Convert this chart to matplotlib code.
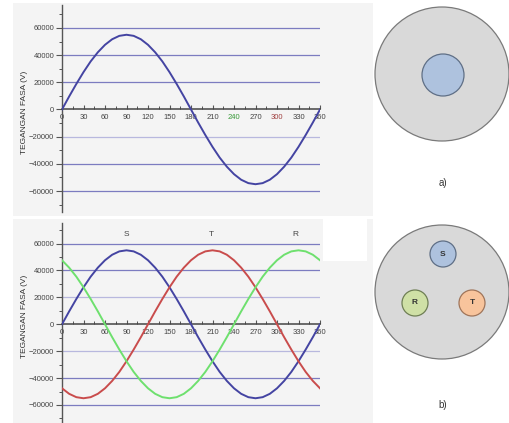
import matplotlib
matplotlib.use("Agg")
import matplotlib.pyplot as plt
from matplotlib.patches import Rectangle, Circle
from matplotlib.ticker import MultipleLocator

plt.rcParams['font.family'] = ['Liberation Sans', 'DejaVu Sans']

# ---- data ----
angles = [0, 10, 20, 30, 40, 50, 60, 70, 80, 90, 100, 110, 120, 130, 140, 150, 160, 170,
          180, 190, 200, 210, 220, 230, 240, 250, 260, 270, 280, 290, 300, 310, 320, 330,
          340, 350, 360]
phase_S = [0, 9600, 18800, 27500, 35400, 42100, 47600, 51700, 54200, 55000, 54200, 51700,
           47600, 42100, 35400, 27500, 18800, 9600, 0, -9600, -18800, -27500, -35400, -42100,
           -47600, -51700, -54200, -55000, -54200, -51700, -47600, -42100, -35400, -27500,
           -18800, -9600, 0]
phase_T = [-47600, -51700, -54200, -55000, -54200, -51700, -47600, -42100, -35400, -27500,
           -18800, -9600, 0, 9600, 18800, 27500, 35400, 42100, 47600, 51700, 54200, 55000,
           54200, 51700, 47600, 42100, 35400, 27500, 18800, 9600, 0, -9600, -18800, -27500,
           -35400, -42100, -47600]
phase_R = [47600, 42100, 35400, 27500, 18800, 9600, 0, -9600, -18800, -27500, -35400, -42100,
           -47600, -51700, -54200, -55000, -54200, -51700, -47600, -42100, -35400, -27500,
           -18800, -9600, 0, 9600, 18800, 27500, 35400, 42100, 47600, 51700, 54200, 55000,
           54200, 51700, 47600]
x_ticks = [0, 30, 60, 90, 120, 150, 180, 210, 240, 270, 300, 330, 360]
y_ticks = [-60000, -40000, -20000, 0, 20000, 40000, 60000]
grid_levels = [-60000, -40000, -20000, 20000, 40000, 60000]
top_light_grid = [-20000]
bottom_light_grid = [-20000, 20000]
phase_names = ['S', 'T', 'R']
phase_label_x = [90, 208, 326]
ylabel_text = 'TEGANGAN FASA (V)'

W, H = 509, 423
fig = plt.figure(figsize=(W / 100, H / 100), dpi=100)
fig.patch.set_facecolor('white')

def fx(px):
    return px / W

def fy(py):
    return 1 - py / H

# overlay in pixel coordinates for backgrounds and circle diagrams
bg = fig.add_axes([0, 0, 1, 1], zorder=0)
bg.set_xlim(0, W)
bg.set_ylim(H, 0)
bg.axis('off')
panel_col = '#f4f4f4'
bg.add_patch(Rectangle((13, 3), 360, 213, facecolor=panel_col, edgecolor='none'))
bg.add_patch(Rectangle((13, 219), 360, 204, facecolor=panel_col, edgecolor='none'))
bg.add_patch(Rectangle((323, 218), 44, 43, facecolor='white', edgecolor='none'))

BLUE = '#4444a2'
RED = '#c94c4c'
GREEN = '#6ee06e'
GRID = '#7c7cc0'
GRID_LIGHT = '#b8b8de'
AXC = '#555555'

def make_axes(top_px, bot_px, ymin, ymax, light):
    ax = fig.add_axes([fx(62), fy(bot_px), fx(320) - fx(62), (bot_px - top_px) / H], zorder=2)
    ax.set_facecolor('none')
    ax.set_xlim(0, 360)
    ax.set_ylim(ymin, ymax)
    for s in ['top', 'right']:
        ax.spines[s].set_visible(False)
    ax.spines['left'].set_position(('data', 0))
    ax.spines['bottom'].set_position(('data', 0))
    ax.spines['left'].set_color(AXC)
    ax.spines['bottom'].set_color('#444444')
    ax.spines['left'].set_linewidth(1.0)
    ax.spines['bottom'].set_linewidth(1.1)
    ax.set_xticks(x_ticks)
    ax.set_yticks(y_ticks)
    ax.xaxis.set_minor_locator(MultipleLocator(15))
    ax.yaxis.set_minor_locator(MultipleLocator(10000))
    ax.tick_params(axis='x', which='major', direction='in', length=3, width=0.8,
                   colors=AXC, labelsize=5.5, pad=3.5, labelcolor='#444444')
    ax.tick_params(axis='x', which='minor', direction='in', length=2, width=0.7, colors=AXC)
    ax.tick_params(axis='y', which='major', direction='out', length=4, width=0.8,
                   colors=AXC, labelsize=5.5, pad=1.5, labelcolor='#444444')
    ax.tick_params(axis='y', which='minor', direction='out', length=2.5, width=0.7, colors=AXC)
    for lv in grid_levels:
        col = GRID_LIGHT if lv in light else GRID
        ax.axhline(lv, color=col, lw=0.9, zorder=1)
    return ax

# ---- top chart ----
ax1 = make_axes(5, 212, -75450, 76900, top_light_grid)
ax1.plot(angles, phase_S, color=BLUE, lw=1.4, zorder=3)
for lab in ax1.get_xticklabels():
    if lab.get_text() == '240':
        lab.set_color('#3a9a3a')
    elif lab.get_text() == '300':
        lab.set_color('#a04040')
fig.text(fx(25), fy(112), ylabel_text, rotation=90, ha='center', va='center',
         fontsize=6, color='#333333')

# ---- bottom chart ----
ax2 = make_axes(223, 423, -73400, 75300, bottom_light_grid)
ax2.plot(angles, phase_S, color=BLUE, lw=1.4, zorder=3)
ax2.plot(angles, phase_T, color=RED, lw=1.4, zorder=3)
ax2.plot(angles, phase_R, color=GREEN, lw=1.4, zorder=3)
for name, xpos in zip(phase_names, phase_label_x):
    ax2.text(xpos, 67000, name, ha='center', va='center', fontsize=6, color='#444444')
fig.text(fx(25), fy(316), ylabel_text, rotation=90, ha='center', va='center',
         fontsize=6, color='#333333')

# ---- circle diagrams ----
big_face = '#d9d9d9'
big_edge = '#7a7a7a'
bg.add_patch(Circle((442, 74), 67, facecolor=big_face, edgecolor=big_edge, lw=0.9))
bg.add_patch(Circle((443, 75), 21, facecolor='#aec2de', edgecolor='#5f6f86', lw=0.9))
bg.text(443, 183, 'a)', ha='center', va='center', fontsize=7, color='#333333')

bg.add_patch(Circle((442, 292), 67, facecolor=big_face, edgecolor=big_edge, lw=0.9))
small = [('S', 443, 254, '#aec2de', '#5f6f86'),
         ('R', 415, 303, '#cfe0a6', '#6f7f55'),
         ('T', 472, 303, '#f8c49c', '#a0755a')]
for name, cx, cy, fc, ec in small:
    bg.add_patch(Circle((cx, cy), 13, facecolor=fc, edgecolor=ec, lw=0.9))
    bg.text(cx, cy, name, ha='center', va='center', fontsize=6, color='#333333',
            fontweight='bold')
bg.text(443, 405, 'b)', ha='center', va='center', fontsize=7, color='#333333')

fig.savefig('out.png', dpi=100)
